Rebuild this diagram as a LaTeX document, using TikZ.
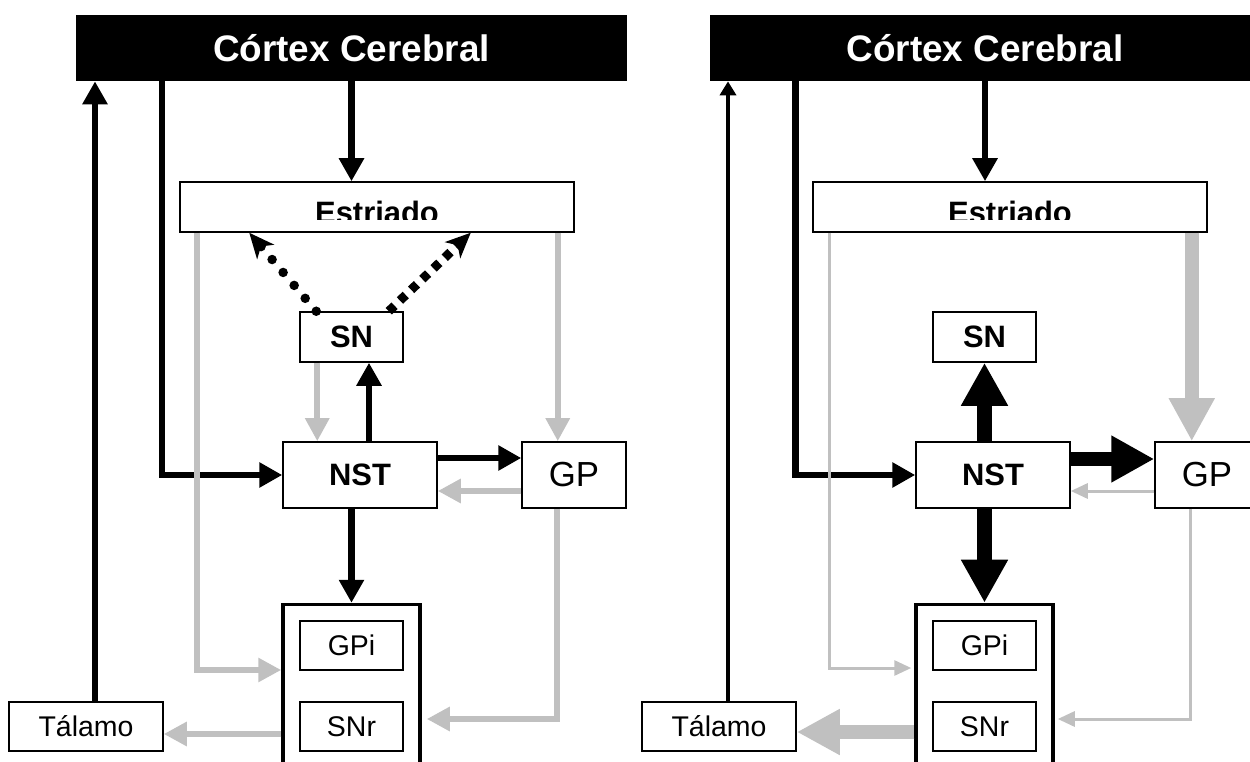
\documentclass[tikz,border=0pt]{standalone}
\usepackage{fontspec}
\setmainfont{Liberation Sans}
\usetikzlibrary{arrows.meta,calc}
\definecolor{bgsilver}{RGB}{192,192,192}
\tikzset{
  cortex/.style={fill=black, text=white, inner sep=0pt, minimum width=110mm,
    minimum height=13.2mm, text height=15pt, text depth=0pt,
    font=\fontsize{21}{25}\selectfont\bfseries},
  estbox/.style={draw, line width=0.3mm, fill=white, inner sep=0pt,
    minimum width=78.8mm, minimum height=10mm},
  esttext/.style={anchor=base, inner sep=0pt, font=\fontsize{17.6}{20}\selectfont\bfseries},
  boldbox/.style={draw, line width=0.3mm, fill=white, inner sep=0pt,
    font=\fontsize{17.6}{20}\selectfont\bfseries},
  gpbox/.style={draw, line width=0.3mm, fill=white, inner sep=0pt,
    minimum width=20.8mm, minimum height=13.2mm, font=\fontsize{19.8}{23}\selectfont},
  smallbox/.style={draw, line width=0.3mm, fill=white, inner sep=0pt,
    minimum height=9.8mm, text height=11.6pt, text depth=0pt,
    font=\fontsize{16.2}{19}\selectfont},
  outbox/.style={draw, line width=0.7mm, inner sep=0pt,
    minimum width=27.4mm, minimum height=35mm},
  blk/.style={-{Triangle[length=4.6mm,width=4.8mm]}, line width=1.3mm},
  blkthin/.style={-{Triangle[length=2.8mm,width=3.2mm]}, line width=0.7mm},
  blkthick/.style={-{Triangle[length=8.6mm,width=8.8mm]}, line width=2.9mm},
  gry/.style={-{Triangle[length=4.6mm,width=4.6mm]}, line width=1.2mm, bgsilver},
  grythin/.style={-{Triangle[length=3.4mm,width=3mm]}, line width=0.6mm, bgsilver},
  grythick/.style={-{Triangle[length=8.6mm,width=8.6mm]}, line width=2.8mm, bgsilver},
  dotl/.style={-{Stealth[length=5mm,width=4.4mm,inset=1.4mm]}, line width=1.9mm,
    line cap=round, dash pattern=on 0pt off 3.4mm},
  dotr/.style={-{Stealth[length=5mm,width=4.4mm,inset=1.4mm]}, line width=1.8mm,
    dash pattern=on 1.6mm off 1.5mm}
}
\begin{document}
\begin{tikzpicture}[x=0.2mm,y=-0.2mm]
  \useasboundingbox (0,0) rectangle (1250,762);

  % left panel
  \node[cortex] (corL) at (351.5,48) {Córtex Cerebral};
  \node[estbox] (estL) at (377,207) {};
  \begin{scope}
    \clip (180,182) rectangle (574,220);
    \node[esttext] (estLtxt) at (377,224) {Estriado};
  \end{scope}
  \node[boldbox,minimum width=20.6mm,minimum height=10mm] (snL) at (351.5,337) {SN};
  \node[boldbox,minimum width=30.8mm,minimum height=13.2mm] (nstL) at (360,475) {NST};
  \node[gpbox] (gpL) at (574,475) {GP};
  \node[outbox] (boxL) at (351.5,692) {};
  \node[smallbox,minimum width=20.6mm] (gpiL) at (351.5,645.5) {GPi};
  \node[smallbox,minimum width=20.6mm] (snrL) at (351.5,726.5) {SNr};
  \node[smallbox,minimum width=30.8mm] (talL) at (86,726.5) {Tálamo};

  \draw[blk] ([xshift=1.8mm]talL.north) -- ([xshift=1.8mm]talL.north |- corL.south);
  \draw[blk] ([xshift=17.2mm]corL.south west) |- (nstL.west);
  \draw[blk] (corL.south) -- (corL.south |- estL.north);
  \draw[blk] ([xshift=1.8mm]nstL.north) -- ([xshift=1.8mm]nstL.north |- snL.south);
  \draw[blk] ([yshift=3.4mm]nstL.east) -- ([yshift=3.4mm]nstL.east -| gpL.west);
  \draw[blk] (nstL.south -| boxL.north) -- (boxL.north);
  \draw[dotl] ([xshift=3.4mm]snL.north west) -- ([xshift=14mm]estL.south west);
  \draw[dotr] ([xshift=-3mm]snL.north east) -- ([xshift=-20.8mm]estL.south east);
  \draw[gry] ([xshift=3.6mm]estL.south west) |- ([yshift=4.4mm]boxL.west);
  \draw[gry] ([xshift=-3.4mm]estL.south east) -- ([xshift=-3.4mm]estL.south east |- gpL.north);
  \draw[gry] ([xshift=3.6mm]snL.south west) -- ([xshift=3.6mm]snL.south west |- nstL.north);
  \draw[gry] ([yshift=-3.2mm]gpL.west) -- ([yshift=-3.2mm]gpL.west -| nstL.east);
  \draw[gry,shorten >=1mm] ([xshift=-3.4mm]gpL.south) |- ([yshift=1.5mm]snrL.east -| boxL.east);
  \draw[gry] ([yshift=-1.5mm]talL.east -| boxL.west) -- ([yshift=-1.5mm]talL.east);

  % right panel
  \node[cortex] (corR) at (985,48) {Córtex Cerebral};
  \node[estbox] (estR) at (1010,207) {};
  \begin{scope}
    \clip (813,182) rectangle (1207,220);
    \node[esttext] (estRtxt) at (1010,224) {Estriado};
  \end{scope}
  \node[boldbox,minimum width=20.6mm,minimum height=10mm] (snR) at (984.5,337) {SN};
  \node[boldbox,minimum width=30.8mm,minimum height=13.2mm] (nstR) at (993,475) {NST};
  \node[gpbox] (gpR) at (1207,475) {GP};
  \node[outbox] (boxR) at (984.5,692) {};
  \node[smallbox,minimum width=20.6mm] (gpiR) at (984.5,645.5) {GPi};
  \node[smallbox,minimum width=20.6mm] (snrR) at (984.5,726.5) {SNr};
  \node[smallbox,minimum width=30.8mm] (talR) at (719,726.5) {Tálamo};

  \draw[blkthin] ([xshift=1.8mm]talR.north) -- ([xshift=1.8mm]talR.north |- corR.south);
  \draw[blk] ([xshift=17.2mm]corR.south west) |- (nstR.west);
  \draw[blk] (corR.south) -- (corR.south |- estR.north);
  \draw[blkthick] (nstR.north -| snR.south) -- (snR.south);
  \draw[blkthick] ([yshift=3.2mm]nstR.east) -- ([yshift=3.2mm]nstR.east -| gpR.west);
  \draw[blkthick] (nstR.south -| boxR.north) -- (boxR.north);
  \draw[grythin,shorten >=0.6mm] ([xshift=3.4mm]estR.south west) |- ([yshift=4.8mm]boxR.west);
  \draw[grythick] ([xshift=-3.2mm]estR.south east) -- ([xshift=-3.2mm]estR.south east |- gpR.north);
  \draw[grythin] ([yshift=-3.2mm]gpR.west) -- ([yshift=-3.2mm]gpR.west -| nstR.east);
  \draw[grythin,shorten >=0.6mm] ([xshift=-3.4mm]gpR.south) |- ([yshift=1.5mm]snrR.east -| boxR.east);
  \draw[grythick] ([yshift=-1.1mm]talR.east -| boxR.west) -- ([yshift=-1.1mm]talR.east);
\end{tikzpicture}
\end{document}
